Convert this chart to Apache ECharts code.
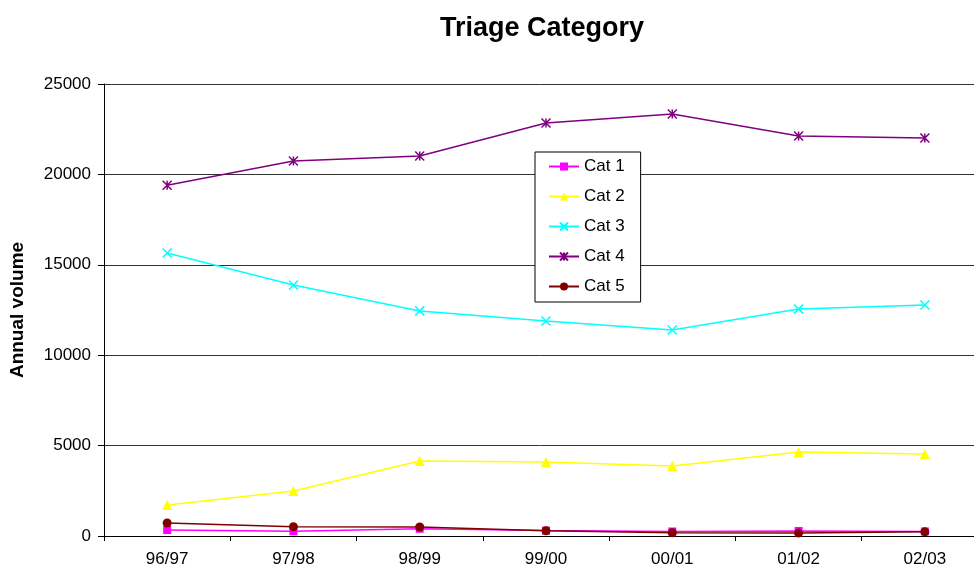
<!DOCTYPE html>
<html>
<head>
<meta charset="utf-8">
<script src="https://cdn.jsdelivr.net/npm/echarts@6/dist/echarts.min.js"></script>
<style>
html,body{margin:0;padding:0;background:#fff;}
#chart{width:974px;height:566px;}
</style>
</head>
<body>
<div id="chart"></div>
<script>
var categories = ['96/97','97/98','98/99','99/00','00/01','01/02','02/03'];
var cat1 = [330, 260, 400, 300, 250, 280, 250];
var cat2 = [1710, 2490, 4150, 4090, 3870, 4650, 4540];
var cat3 = [15650, 13880, 12450, 11890, 11390, 12550, 12780];
var cat4 = [19400, 20740, 21020, 22840, 23340, 22120, 22010];
var cat5 = [720, 510, 500, 290, 180, 160, 230];
var yTicks = [0, 5000, 10000, 15000, 20000, 25000];

var font = '"Liberation Sans", Arial, sans-serif';
var chart = echarts.init(document.getElementById('chart'), null, {renderer:'canvas'});

function mk(name, data, color, symbol, size, stroke) {
  return {
    name: name, type: 'line', data: data,
    symbol: symbol, symbolSize: size, showSymbol: true,
    lineStyle: {color: color, width: 1.5},
    itemStyle: stroke ? {color: color, borderColor: color, borderWidth: 1.5} : {color: color, borderWidth: 0},
    emphasis: {disabled: true}
  };
}

chart.setOption({
  animation: false,
  backgroundColor: '#fff',
  title: {
    text: 'Triage Category', left: 537, textAlign: 'center', top: 10,
    textStyle: {fontFamily: font, fontWeight: 'bold', fontSize: 27, color: '#000'}
  },
  legend: {
    orient: 'vertical', left: 535, top: 152,
    padding: [6, 16, 7, 13], itemGap: 13,
    itemWidth: 30, itemHeight: 10,
    backgroundColor: '#fff', borderColor: '#000', borderWidth: 1,
    textStyle: {fontFamily: font, fontSize: 17, color: '#000'},
    data: ['Cat 1','Cat 2','Cat 3','Cat 4','Cat 5']
  },
  grid: {left: 104, top: 84, bottom: 30, right: -14, containLabel: false, outerBoundsMode: 'none'},
  xAxis: {
    type: 'category', data: categories, boundaryGap: true,
    axisLine: {lineStyle: {color: '#000', width: 1}},
    axisTick: {show: true, length: 5, lineStyle: {color: '#000'}},
    axisLabel: {fontFamily: font, fontSize: 17, color: '#000', margin: 15, interval: 0},
    splitLine: {show: false}
  },
  yAxis: {
    type: 'value', min: 0, max: 25000, interval: 5000,
    name: 'Annual volume', nameLocation: 'middle', nameRotate: 90, nameGap: 77,
    nameTextStyle: {fontFamily: font, fontWeight: 'bold', fontSize: 19, color: '#000'},
    axisLine: {show: true, lineStyle: {color: '#000', width: 1}},
    axisTick: {show: true, length: 6, lineStyle: {color: '#000'}},
    axisLabel: {fontFamily: font, fontSize: 17, color: '#000', margin: 13,
      formatter: function(v){ return yTicks.indexOf(v) >= 0 ? String(v) : ''; }},
    splitLine: {show: true, lineStyle: {color: '#333', width: 1}}
  },
  series: [
    mk('Cat 1', cat1, '#FF00FF', 'rect', 8, false),
    mk('Cat 2', cat2, '#FFFF00', 'triangle', 10, false),
    mk('Cat 3', cat3, '#00FFFF', 'path://M0 0L10 10M10 0L0 10', 9, true),
    mk('Cat 4', cat4, '#800080', 'path://M0 0L10 10M10 0L0 10M5 0L5 10', 9, true),
    mk('Cat 5', cat5, '#800000', 'circle', 9, false)
  ]
});
</script>
</body>
</html>
